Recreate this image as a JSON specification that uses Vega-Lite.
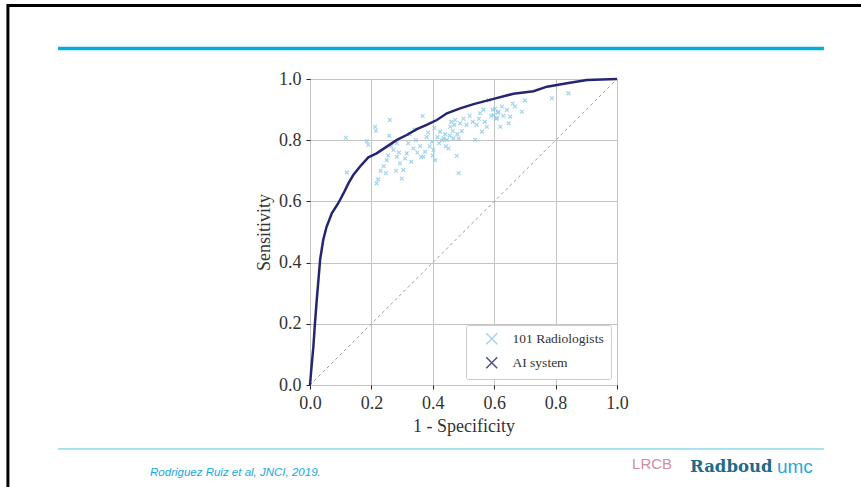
{
  "$schema": "https://vega.github.io/schema/vega-lite/v6.json",
  "width": 307,
  "height": 306,
  "autosize": "none",
  "padding": {"left": 310, "top": 79, "right": 244, "bottom": 102},
  "background": "white",
  "config": {
    "view": {"stroke": "#222", "strokeWidth": 1},
    "axis": {
      "labelFont": "Liberation Serif",
      "titleFont": "Liberation Serif",
      "labelFontSize": 18,
      "titleFontSize": 18,
      "titleFontWeight": "normal",
      "labelColor": "#333",
      "titleColor": "#333",
      "gridColor": "#c4c4c4",
      "gridWidth": 1,
      "gridOpacity": 1,
      "domain": false,
      "tickColor": "#222",
      "tickSize": 4,
      "labelFlush": false
    },
    "legend": {
      "labelFont": "Liberation Serif",
      "labelFontSize": 13.5,
      "labelColor": "#333"
    }
  },
  "encoding": {
    "x": {
      "field": "x", "type": "quantitative",
      "scale": {"domain": [0, 1], "nice": false, "zero": false},
      "axis": {"title": "1 - Specificity", "values": [0, 0.2, 0.4, 0.6, 0.8, 1], "format": ".1f", "labelPadding": 5, "titlePadding": 5}
    },
    "y": {
      "field": "y", "type": "quantitative",
      "scale": {"domain": [0, 1], "nice": false, "zero": false},
      "axis": {"title": "Sensitivity", "values": [0, 0.2, 0.4, 0.6, 0.8, 1], "format": ".1f", "labelPadding": 5, "titlePadding": 5}
    }
  },
  "layer": [
    {
      "data": {"values": [{"x": 0, "y": 0}, {"x": 1, "y": 1}]},
      "mark": {"type": "line", "color": "#9a9a9a", "strokeWidth": 1, "strokeDash": [3, 3]},
      "encoding": {}
    },
    {
      "data": {"values": [
        {"x": 0.117, "y": 0.808, "series": "101 Radiologists"},
        {"x": 0.120, "y": 0.695, "series": "101 Radiologists"},
        {"x": 0.185, "y": 0.797, "series": "101 Radiologists"},
        {"x": 0.190, "y": 0.785, "series": "101 Radiologists"},
        {"x": 0.212, "y": 0.844, "series": "101 Radiologists"},
        {"x": 0.215, "y": 0.831, "series": "101 Radiologists"},
        {"x": 0.217, "y": 0.659, "series": "101 Radiologists"},
        {"x": 0.222, "y": 0.672, "series": "101 Radiologists"},
        {"x": 0.230, "y": 0.700, "series": "101 Radiologists"},
        {"x": 0.240, "y": 0.715, "series": "101 Radiologists"},
        {"x": 0.247, "y": 0.692, "series": "101 Radiologists"},
        {"x": 0.250, "y": 0.735, "series": "101 Radiologists"},
        {"x": 0.255, "y": 0.750, "series": "101 Radiologists"},
        {"x": 0.258, "y": 0.814, "series": "101 Radiologists"},
        {"x": 0.260, "y": 0.866, "series": "101 Radiologists"},
        {"x": 0.265, "y": 0.780, "series": "101 Radiologists"},
        {"x": 0.272, "y": 0.768, "series": "101 Radiologists"},
        {"x": 0.280, "y": 0.700, "series": "101 Radiologists"},
        {"x": 0.283, "y": 0.746, "series": "101 Radiologists"},
        {"x": 0.283, "y": 0.790, "series": "101 Radiologists"},
        {"x": 0.290, "y": 0.760, "series": "101 Radiologists"},
        {"x": 0.293, "y": 0.724, "series": "101 Radiologists"},
        {"x": 0.299, "y": 0.675, "series": "101 Radiologists"},
        {"x": 0.304, "y": 0.703, "series": "101 Radiologists"},
        {"x": 0.310, "y": 0.740, "series": "101 Radiologists"},
        {"x": 0.315, "y": 0.757, "series": "101 Radiologists"},
        {"x": 0.320, "y": 0.790, "series": "101 Radiologists"},
        {"x": 0.325, "y": 0.820, "series": "101 Radiologists"},
        {"x": 0.330, "y": 0.730, "series": "101 Radiologists"},
        {"x": 0.337, "y": 0.773, "series": "101 Radiologists"},
        {"x": 0.345, "y": 0.800, "series": "101 Radiologists"},
        {"x": 0.350, "y": 0.760, "series": "101 Radiologists"},
        {"x": 0.359, "y": 0.781, "series": "101 Radiologists"},
        {"x": 0.362, "y": 0.745, "series": "101 Radiologists"},
        {"x": 0.367, "y": 0.879, "series": "101 Radiologists"},
        {"x": 0.370, "y": 0.746, "series": "101 Radiologists"},
        {"x": 0.375, "y": 0.762, "series": "101 Radiologists"},
        {"x": 0.380, "y": 0.810, "series": "101 Radiologists"},
        {"x": 0.385, "y": 0.825, "series": "101 Radiologists"},
        {"x": 0.390, "y": 0.780, "series": "101 Radiologists"},
        {"x": 0.397, "y": 0.795, "series": "101 Radiologists"},
        {"x": 0.402, "y": 0.768, "series": "101 Radiologists"},
        {"x": 0.405, "y": 0.840, "series": "101 Radiologists"},
        {"x": 0.408, "y": 0.735, "series": "101 Radiologists"},
        {"x": 0.415, "y": 0.810, "series": "101 Radiologists"},
        {"x": 0.420, "y": 0.790, "series": "101 Radiologists"},
        {"x": 0.424, "y": 0.828, "series": "101 Radiologists"},
        {"x": 0.430, "y": 0.800, "series": "101 Radiologists"},
        {"x": 0.435, "y": 0.806, "series": "101 Radiologists"},
        {"x": 0.440, "y": 0.820, "series": "101 Radiologists"},
        {"x": 0.443, "y": 0.780, "series": "101 Radiologists"},
        {"x": 0.446, "y": 0.801, "series": "101 Radiologists"},
        {"x": 0.451, "y": 0.773, "series": "101 Radiologists"},
        {"x": 0.455, "y": 0.815, "series": "101 Radiologists"},
        {"x": 0.457, "y": 0.844, "series": "101 Radiologists"},
        {"x": 0.460, "y": 0.860, "series": "101 Radiologists"},
        {"x": 0.465, "y": 0.830, "series": "101 Radiologists"},
        {"x": 0.467, "y": 0.806, "series": "101 Radiologists"},
        {"x": 0.470, "y": 0.850, "series": "101 Radiologists"},
        {"x": 0.473, "y": 0.866, "series": "101 Radiologists"},
        {"x": 0.478, "y": 0.749, "series": "101 Radiologists"},
        {"x": 0.480, "y": 0.820, "series": "101 Radiologists"},
        {"x": 0.484, "y": 0.692, "series": "101 Radiologists"},
        {"x": 0.484, "y": 0.806, "series": "101 Radiologists"},
        {"x": 0.489, "y": 0.855, "series": "101 Radiologists"},
        {"x": 0.495, "y": 0.830, "series": "101 Radiologists"},
        {"x": 0.500, "y": 0.870, "series": "101 Radiologists"},
        {"x": 0.510, "y": 0.850, "series": "101 Radiologists"},
        {"x": 0.520, "y": 0.880, "series": "101 Radiologists"},
        {"x": 0.530, "y": 0.860, "series": "101 Radiologists"},
        {"x": 0.538, "y": 0.801, "series": "101 Radiologists"},
        {"x": 0.543, "y": 0.850, "series": "101 Radiologists"},
        {"x": 0.550, "y": 0.870, "series": "101 Radiologists"},
        {"x": 0.554, "y": 0.888, "series": "101 Radiologists"},
        {"x": 0.560, "y": 0.828, "series": "101 Radiologists"},
        {"x": 0.565, "y": 0.900, "series": "101 Radiologists"},
        {"x": 0.570, "y": 0.860, "series": "101 Radiologists"},
        {"x": 0.576, "y": 0.844, "series": "101 Radiologists"},
        {"x": 0.582, "y": 0.931, "series": "101 Radiologists"},
        {"x": 0.590, "y": 0.880, "series": "101 Radiologists"},
        {"x": 0.595, "y": 0.900, "series": "101 Radiologists"},
        {"x": 0.598, "y": 0.882, "series": "101 Radiologists"},
        {"x": 0.603, "y": 0.903, "series": "101 Radiologists"},
        {"x": 0.606, "y": 0.870, "series": "101 Radiologists"},
        {"x": 0.609, "y": 0.872, "series": "101 Radiologists"},
        {"x": 0.612, "y": 0.890, "series": "101 Radiologists"},
        {"x": 0.614, "y": 0.893, "series": "101 Radiologists"},
        {"x": 0.620, "y": 0.844, "series": "101 Radiologists"},
        {"x": 0.625, "y": 0.910, "series": "101 Radiologists"},
        {"x": 0.630, "y": 0.880, "series": "101 Radiologists"},
        {"x": 0.641, "y": 0.899, "series": "101 Radiologists"},
        {"x": 0.647, "y": 0.855, "series": "101 Radiologists"},
        {"x": 0.652, "y": 0.877, "series": "101 Radiologists"},
        {"x": 0.660, "y": 0.920, "series": "101 Radiologists"},
        {"x": 0.668, "y": 0.910, "series": "101 Radiologists"},
        {"x": 0.690, "y": 0.893, "series": "101 Radiologists"},
        {"x": 0.700, "y": 0.930, "series": "101 Radiologists"},
        {"x": 0.788, "y": 0.937, "series": "101 Radiologists"},
        {"x": 0.842, "y": 0.953, "series": "101 Radiologists"},
        {"x": 0.400, "y": 0.750, "series": "101 Radiologists"},
        {"x": 0.340, "y": 0.835, "series": "101 Radiologists"}
      ]},
      "mark": {"type": "point", "shape": "M-1,-1L1,1M-1,1L1,-1", "filled": false, "size": 14, "strokeWidth": 1.2, "opacity": 0.8},
      "encoding": {
        "color": {
          "field": "series", "type": "nominal",
          "scale": {"domain": ["101 Radiologists", "AI system"], "range": ["#8ccbe6", "#262670"]},
          "legend": {
            "title": null,
            "orient": "bottom-right",
            "offset": 6,
            "fillColor": "white",
            "strokeColor": "#cccccc",
            "padding": 7,
            "cornerRadius": 2,
            "labelOffset": 14,
            "symbolOffset": 12,
            "rowPadding": 6,
            "symbolSize": 120
          }
        }
      }
    },
    {
      "data": {"values": [
        {"x": 0.000, "y": 0.000, "series": "AI system"},
        {"x": 0.005, "y": 0.060, "series": "AI system"},
        {"x": 0.011, "y": 0.125, "series": "AI system"},
        {"x": 0.016, "y": 0.200, "series": "AI system"},
        {"x": 0.022, "y": 0.278, "series": "AI system"},
        {"x": 0.028, "y": 0.350, "series": "AI system"},
        {"x": 0.033, "y": 0.410, "series": "AI system"},
        {"x": 0.043, "y": 0.474, "series": "AI system"},
        {"x": 0.054, "y": 0.517, "series": "AI system"},
        {"x": 0.071, "y": 0.561, "series": "AI system"},
        {"x": 0.092, "y": 0.594, "series": "AI system"},
        {"x": 0.109, "y": 0.626, "series": "AI system"},
        {"x": 0.125, "y": 0.659, "series": "AI system"},
        {"x": 0.141, "y": 0.686, "series": "AI system"},
        {"x": 0.163, "y": 0.714, "series": "AI system"},
        {"x": 0.190, "y": 0.744, "series": "AI system"},
        {"x": 0.217, "y": 0.757, "series": "AI system"},
        {"x": 0.250, "y": 0.779, "series": "AI system"},
        {"x": 0.283, "y": 0.801, "series": "AI system"},
        {"x": 0.315, "y": 0.817, "series": "AI system"},
        {"x": 0.348, "y": 0.836, "series": "AI system"},
        {"x": 0.380, "y": 0.850, "series": "AI system"},
        {"x": 0.413, "y": 0.866, "series": "AI system"},
        {"x": 0.446, "y": 0.888, "series": "AI system"},
        {"x": 0.489, "y": 0.904, "series": "AI system"},
        {"x": 0.533, "y": 0.918, "series": "AI system"},
        {"x": 0.598, "y": 0.935, "series": "AI system"},
        {"x": 0.663, "y": 0.952, "series": "AI system"},
        {"x": 0.728, "y": 0.960, "series": "AI system"},
        {"x": 0.772, "y": 0.975, "series": "AI system"},
        {"x": 0.837, "y": 0.986, "series": "AI system"},
        {"x": 0.902, "y": 0.997, "series": "AI system"},
        {"x": 1.000, "y": 1.000, "series": "AI system"}
      ]},
      "mark": {"type": "line", "strokeWidth": 2.5},
      "encoding": {
        "color": {"field": "series", "type": "nominal", "legend": null}
      }
    },
    {
      "data": {"values": [{"x": -0.984, "x2": 1.80, "y": 1.240}]},
      "mark": {"type": "rule", "color": "#000", "strokeWidth": 3},
      "encoding": {"x2": {"field": "x2"}}
    },
    {
      "data": {"values": [{"x": -0.984, "y": 1.245, "y2": -0.34}]},
      "mark": {"type": "rule", "color": "#000", "strokeWidth": 3},
      "encoding": {"y2": {"field": "y2"}}
    },
    {
      "data": {"values": [{"x": -0.821, "x2": 1.674, "y": 1.100}]},
      "mark": {"type": "rule", "color": "#00aee0", "strokeWidth": 3.5},
      "encoding": {"x2": {"field": "x2"}}
    },
    {
      "data": {"values": [{"x": -0.821, "x2": 1.674, "y": -0.209}]},
      "mark": {"type": "rule", "color": "#5bc0e5", "strokeWidth": 1},
      "encoding": {"x2": {"field": "x2"}}
    },
    {
      "data": {"values": [{"x": -0.521, "y": -0.288, "t": "Rodriguez Ruiz et al, JNCI, 2019."}]},
      "mark": {"type": "text", "align": "left", "baseline": "middle", "font": "Liberation Sans", "fontStyle": "italic", "fontSize": 11.5, "color": "#14a9df"},
      "encoding": {"text": {"field": "t"}}
    },
    {
      "data": {"values": [{"x": 1.049, "y": -0.258, "t": "LRCB"}]},
      "mark": {"type": "text", "align": "left", "baseline": "middle", "font": "Liberation Sans", "fontSize": 15, "color": "#d48da0"},
      "encoding": {"text": {"field": "t"}}
    },
    {
      "data": {"values": [{"x": 1.238, "y": -0.268, "t": "Radboud"}]},
      "mark": {"type": "text", "align": "left", "baseline": "middle", "font": "DejaVu Serif", "fontWeight": "bold", "fontSize": 16.5, "color": "#1d6a8a"},
      "encoding": {"text": {"field": "t"}}
    },
    {
      "data": {"values": [{"x": 1.521, "y": -0.268, "t": "umc"}]},
      "mark": {"type": "text", "align": "left", "baseline": "middle", "font": "Liberation Sans", "fontSize": 19, "color": "#2aa6d8"},
      "encoding": {"text": {"field": "t"}}
    }
  ]
}
